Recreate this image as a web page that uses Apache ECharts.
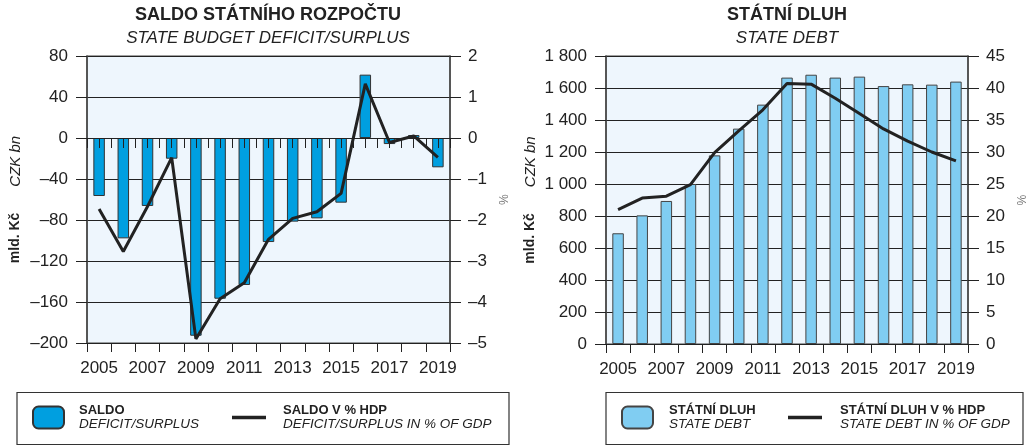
<!DOCTYPE html>
<html>
<head>
<meta charset="utf-8">
<script src="https://cdn.jsdelivr.net/npm/echarts@6/dist/echarts.min.js"></script>
<style>
  html, body { margin: 0; padding: 0; background: #fff; }
  #main { width: 1035px; height: 446px; }
</style>
</head>
<body>
<div id="main"></div>
<script>
const years = ['2005', '2006', '2007', '2008', '2009', '2010', '2011', '2012', '2013', '2014', '2015', '2016', '2017', '2018', '2019']

// saldo statniho rozpoctu, mld. Kc / % HDP
const saldo = [-56.6, -97.9, -66.3, -20.2, -192.9, -156.8, -143.4, -101.5, -81.6, -78.4, -63.1, 61.8, -5.9, 2.9, -28.6]
const saldoGdp = [-1.73, -2.77, -1.67, -0.48, -4.9, -3.92, -3.53, -2.47, -1.96, -1.8, -1.35, 1.32, -0.11, 0.05, -0.47]

// statni dluh, mld. Kc / % HDP
const debt = [692, 804, 894, 1000, 1179, 1346, 1496, 1665, 1683, 1665, 1671, 1612, 1623, 1621, 1640]
const debtGdp = [21.0, 22.8, 23.1, 24.9, 29.9, 33.3, 36.6, 40.7, 40.6, 38.4, 36.0, 33.6, 31.7, 30.0, 28.6]

const legendSub = {
  'SALDO': 'DEFICIT/SURPLUS',
  'SALDO V % HDP': 'DEFICIT/SURPLUS IN % OF GDP',
  'STÁTNÍ DLUH': 'STATE DEBT',
  'STÁTNÍ DLUH V % HDP': 'STATE DEBT IN % OF GDP',
}

const font = 'Liberation Sans, Arial, Helvetica, sans-serif'
const ink = '#222'

function fmtMinus(v) {
  return String(v).replace('-', '\u2013')
}
function fmtThousands(v) {
  return String(v).replace(/\B(?=(\d{3})+(?!\d))/g, ' ')
}

const axisName = {
  name: '{b|mld. Kč}{i|CZK bn}',
  nameLocation: 'middle',
  nameTextStyle: {
    rich: {
      b: { fontSize: 14, fontWeight: 'bold', color: ink, fontFamily: font },
      i: { fontSize: 15, fontStyle: 'italic', color: ink, fontFamily: font, padding: [0, 0, 0, 26] },
    },
  },
}

function leftAxis(grid, min, max, interval, fmt, gap) {
  return Object.assign({
    type: 'value', gridIndex: grid, position: 'left', min, max, interval,
    nameGap: gap,
    axisLine: { show: true, onZero: false, lineStyle: { color: '#444', width: 1.5 } },
    axisTick: { show: true, length: 11, lineStyle: { color: ink } },
    axisLabel: { margin: 19, fontSize: 17, color: ink, fontFamily: font, formatter: fmt },
    splitLine: { show: true, lineStyle: { color: ink, width: 1 } },
  }, axisName)
}

function rightAxis(grid, min, max, interval, fmt) {
  return {
    type: 'value', gridIndex: grid, position: 'right', min, max, interval,
    name: '%', nameLocation: 'middle', nameGap: 46, nameRotate: -90,
    nameTextStyle: { fontSize: 12, color: '#777', fontFamily: font },
    axisLine: { show: true, onZero: false, lineStyle: { color: '#444', width: 1.5 } },
    axisTick: { show: true, length: 11, lineStyle: { color: ink } },
    axisLabel: { margin: 18, fontSize: 17, color: ink, fontFamily: font, formatter: fmt },
    splitLine: { show: false },
  }
}

function yearAxis(grid) {
  return {
    type: 'category', gridIndex: grid, data: years, position: 'bottom', boundaryGap: true,
    axisLine: { show: true, onZero: false, lineStyle: { color: ink } },
    axisTick: { show: true, interval: 0, length: 9, lineStyle: { color: ink } },
    axisLabel: { interval: 1, margin: 17, fontSize: 17, color: ink, fontFamily: font },
    splitLine: { show: false },
  }
}

function legendItem(name, left, isBar, pad) {
  return {
    data: [isBar ? { name } : { name, icon: 'rect' }],
    left, top: 404, padding: 0, selectedMode: false,
    itemWidth: isBar ? 31 : 34, itemHeight: isBar ? 22 : 3.5,
    formatter: n => '{b|' + n + '}\n{i|' + legendSub[n] + '}',
    textStyle: {
      color: ink, fontFamily: font,
      rich: {
        b: { fontSize: 13, fontWeight: 'bold', lineHeight: 14, padding: [0, 0, 0, pad], color: ink, fontFamily: font },
        i: { fontSize: 13.5, fontStyle: 'italic', lineHeight: 14, padding: [0, 0, 0, pad], color: ink, fontFamily: font },
      },
    },
  }
}

function titleItem(text, sub, center) {
  return {
    text, subtext: sub, left: center, top: 6, textAlign: 'center', padding: 0, itemGap: 6,
    textStyle: { fontSize: 18, fontWeight: 'bold', color: ink, fontFamily: font },
    subtextStyle: { fontSize: 17, fontStyle: 'italic', color: ink, fontFamily: font },
  }
}

const chart = echarts.init(document.getElementById('main'), null, { renderer: 'canvas' })

const option = {
  animation: false,
  textStyle: { fontFamily: font },
  title: [
    titleItem('SALDO STÁTNÍHO ROZPOČTU', 'STATE BUDGET DEFICIT/SURPLUS', 268),
    titleItem('STÁTNÍ DLUH', 'STATE DEBT', 787),
  ],
  grid: [
    { left: 87, right: 585, top: 56, bottom: 103, show: true, backgroundColor: '#eef6fd', borderColor: '#444', borderWidth: 1.2 },
    { left: 606, right: 67, top: 56, bottom: 102, show: true, backgroundColor: '#eef6fd', borderColor: '#444', borderWidth: 1.2 },
  ],
  xAxis: [
    yearAxis(0),
    // ticks along the zero line, every half year
    {
      type: 'value', gridIndex: 0, position: 'bottom', min: 0, max: years.length * 2, interval: 1, z: 5,
      axisLine: { show: true, onZero: true, lineStyle: { color: ink } },
      axisTick: { show: true, length: 10, lineStyle: { color: ink } },
      axisLabel: { show: false },
      splitLine: { show: false },
    },
    yearAxis(1),
  ],
  yAxis: [
    leftAxis(0, -200, 80, 40, fmtMinus, 64),
    rightAxis(0, -5, 2, 1, fmtMinus),
    leftAxis(1, 0, 1800, 200, fmtThousands, 68),
    rightAxis(1, 0, 45, 5, v => v),
  ],
  legend: [
    legendItem('SALDO', 32, true, 10),
    legendItem('SALDO V % HDP', 232, false, 12),
    legendItem('STÁTNÍ DLUH', 621, true, 11),
    legendItem('STÁTNÍ DLUH V % HDP', 788, false, 13),
  ],
  graphic: [
    { type: 'rect', silent: true, shape: { x: 17, y: 392.5, width: 492, height: 52 }, style: { fill: 'none', stroke: '#333', lineWidth: 1.2 } },
    { type: 'rect', silent: true, shape: { x: 606, y: 392.5, width: 417, height: 52 }, style: { fill: 'none', stroke: '#333', lineWidth: 1.2 } },
  ],
  series: [
    {
      name: 'SALDO', type: 'bar', xAxisIndex: 0, yAxisIndex: 0, data: saldo, barWidth: 11.5,
      itemStyle: { color: '#009fe0', borderColor: '#333', borderWidth: 1 },
    },
    {
      name: 'SALDO V % HDP', type: 'line', xAxisIndex: 0, yAxisIndex: 1, data: saldoGdp, z: 6,
      symbol: 'none', lineStyle: { color: ink, width: 3 }, itemStyle: { color: ink },
    },
    {
      name: 'STÁTNÍ DLUH', type: 'bar', xAxisIndex: 2, yAxisIndex: 2, data: debt, barWidth: 11.5,
      itemStyle: { color: '#80cdf2', borderColor: '#444', borderWidth: 1 },
    },
    {
      name: 'STÁTNÍ DLUH V % HDP', type: 'line', xAxisIndex: 2, yAxisIndex: 3, data: debtGdp, z: 6,
      symbol: 'none', lineStyle: { color: ink, width: 3 }, itemStyle: { color: ink },
    },
  ],
}

chart.setOption(option)
</script>
</body>
</html>
